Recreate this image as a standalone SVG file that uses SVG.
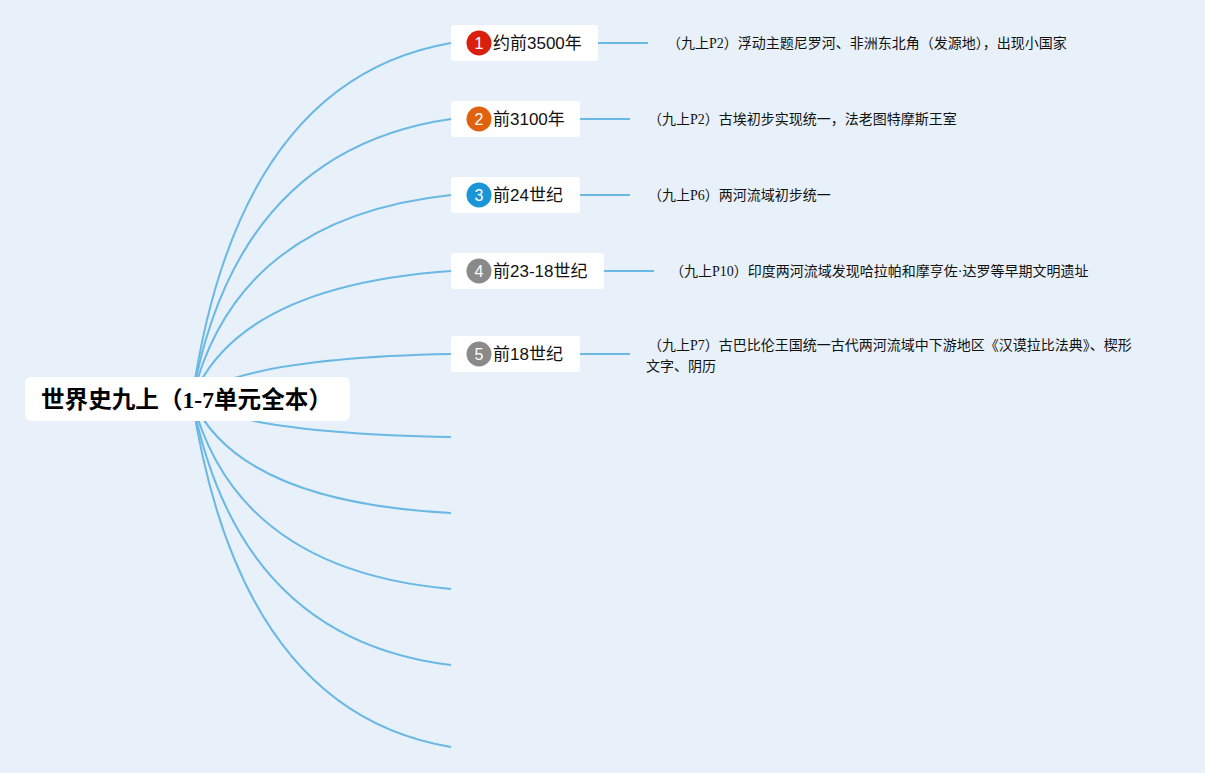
<svg xmlns="http://www.w3.org/2000/svg" width="1205" height="773" viewBox="0 0 1205 773">
<style>
.bg{fill:#e8f0f9}
.conn path{fill:none;stroke:#6ab8e4;stroke-width:2}
.box{fill:#ffffff}
.num{fill:#ffffff;font-family:"Liberation Sans","Noto Sans CJK SC",sans-serif;font-size:16px;text-anchor:middle}
.lbl{fill:#111111;font-family:"Liberation Sans","Noto Sans CJK SC",sans-serif;font-size:17px}
.det{fill:#111111;font-family:"Liberation Serif","Noto Sans CJK SC",sans-serif;font-size:14px}
.root{fill:#000000;font-family:"Liberation Serif","Noto Sans CJK SC",sans-serif;font-size:23.6px;font-weight:bold}
</style>
<rect class="bg" x="0" y="0" width="1205" height="773"/>
<g id="connectors" class="conn">
<path d="M192,399 Q238,80 451,43"/>
<path d="M192,399 Q236,150 451,119"/>
<path d="M192,399 Q236,218 451,195"/>
<path d="M192,399 Q238,286 451,271"/>
<path d="M192,399 Q240,358 451,354"/>
<path d="M192,399 Q240,433 451,437"/>
<path d="M192,399 Q238,502 451,513"/>
<path d="M192,399 Q236,570 451,589"/>
<path d="M192,399 Q238,639 451,665"/>
<path d="M192,399 Q240,712 451,747"/>
<path d="M598,43 H648"/>
<path d="M580,119 H630"/>
<path d="M580,195 H630"/>
<path d="M604,271 H654"/>
<path d="M580,354 H630"/>
</g>
<g id="root">
<rect class="box" x="25" y="377" width="325" height="44" rx="6"/>
<text class="root" x="41" y="408">世界史九上（1-7单元全本）</text>
</g>
<g id="node1">
<rect class="box" x="451" y="25" width="147" height="36" rx="3"/>
<circle cx="479" cy="43" r="12.5" fill="#d9200f"/>
<text class="num" x="479" y="49">1</text>
<text class="lbl" x="493" y="49">约前3500年</text>
</g>
<g id="node2">
<rect class="box" x="451" y="101" width="129" height="36" rx="3"/>
<circle cx="479" cy="119" r="12.5" fill="#e0620f"/>
<text class="num" x="479" y="125">2</text>
<text class="lbl" x="493" y="125">前3100年</text>
</g>
<g id="node3">
<rect class="box" x="451" y="177" width="129" height="36" rx="3"/>
<circle cx="479" cy="195" r="12.5" fill="#1a96d8"/>
<text class="num" x="479" y="201">3</text>
<text class="lbl" x="493" y="201">前24世纪</text>
</g>
<g id="node4">
<rect class="box" x="451" y="253" width="153" height="36" rx="3"/>
<circle cx="479" cy="271" r="12.5" fill="#8a8a8a"/>
<text class="num" x="479" y="277">4</text>
<text class="lbl" x="493" y="277">前23-18世纪</text>
</g>
<g id="node5">
<rect class="box" x="451" y="336" width="129" height="36" rx="3"/>
<circle cx="479" cy="354" r="12.5" fill="#8a8a8a"/>
<text class="num" x="479" y="360">5</text>
<text class="lbl" x="493" y="360">前18世纪</text>
</g>
<g id="detail1"><text class="det" x="667" y="48">（九上P2）浮动主题尼罗河、非洲东北角（发源地），出现小国家</text></g>
<g id="detail2"><text class="det" x="648" y="124">（九上P2）古埃初步实现统一，法老图特摩斯王室</text></g>
<g id="detail3"><text class="det" x="648" y="200">（九上P6）两河流域初步统一</text></g>
<g id="detail4"><text class="det" x="670" y="276">（九上P10）印度两河流域发现哈拉帕和摩亨佐·达罗等早期文明遗址</text></g>
<g id="detail5"><text class="det" x="648" y="350">（九上P7）古巴比伦王国统一古代两河流域中下游地区《汉谟拉比法典》、楔形</text><text class="det" x="646" y="371">文字、阴历</text></g>
</svg>
